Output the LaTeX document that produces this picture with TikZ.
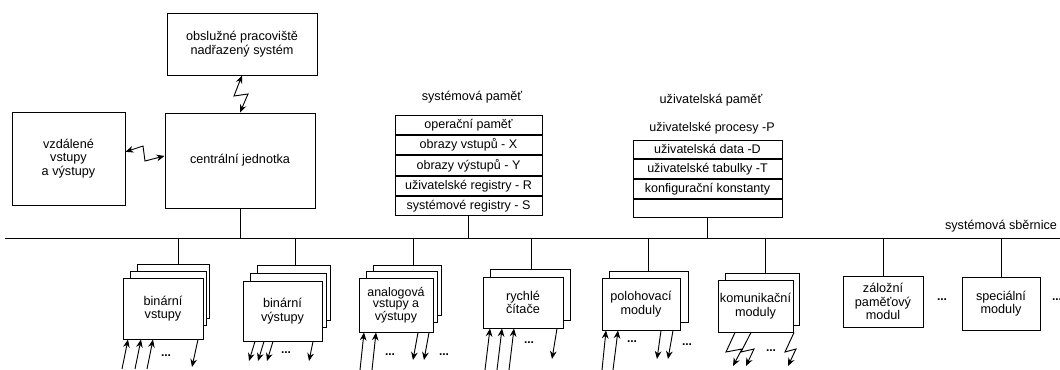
\documentclass[tikz,border=0pt]{standalone}
\usepackage{fontspec}
\setmainfont{Liberation Sans}
\usetikzlibrary{arrows.meta,calc}
\newlength\px \setlength\px{0.75pt}
\begin{document}
\begin{tikzpicture}[x=0.75pt,y=-0.75pt,
  line width=0.7pt,
  txt/.style={font=\fontsize{9.5}{10}\selectfont, align=center, inner sep=0pt},
  box/.style={draw, fill=white, txt},
  cell/.style={draw, fill=white, font=\fontsize{9.4}{10}\selectfont, inner sep=0pt, minimum width=147\px, minimum height=19.4\px},
  ucell/.style={draw, fill=white, font=\fontsize{9.4}{10}\selectfont, inner sep=0pt, minimum width=149\px, minimum height=18.75\px},
  uparr/.style={-{Stealth[length=6pt,width=5pt]}},
  dnarr/.style={-{Stealth[length=6pt,width=5pt]}},
  zz/.style={{Stealth[length=6pt,width=5pt]}-{Stealth[length=6pt,width=5pt]}},
  dots/.style={font=\bfseries\fontsize{9}{10}\selectfont, inner sep=0pt}
]
\useasboundingbox (0,0) rectangle (1060,370);

% top boxes
\node[box, minimum width=150\px, minimum height=62\px] (ob) at (242,44) {obslužné pracoviště\\nadřazený systém};
\node[box, minimum width=150\px, minimum height=95\px] (cj) at (240,160.5) {centrální jednotka};
\node[box, minimum width=113\px, minimum height=93\px] (vz) at (68.5,158.5) {vzdálené\\vstupy\\a výstupy};

\draw[zz] (ob.south) -- (234,96) -- (248,94) -- (cj.north);
\draw[zz] ([yshift=5pt]vz.east) -- (143,146) -- (145,161) -- ([yshift=3.4pt]cj.west);

% bus
\coordinate (busL) at (5,238);
\coordinate (busR) at (1060,238);
\draw (busL) -- (busR);
\node[txt, anchor=south] (sb) at (1001,233) {systémová sběrnice};

\draw (cj.south) -- (cj.south |- busL);

% system memory
\node[txt] (smt) at (472,97) {systémová paměť};
\node[cell] (s1) at (468.5,124.7) {operační paměť};
\node[cell, anchor=north] (s2) at (s1.south) {obrazy vstupů - X};
\node[cell, anchor=north] (s3) at (s2.south) {obrazy výstupů - Y};
\node[cell, anchor=north] (s4) at (s3.south) {uživatelské registry - R};
\node[cell, anchor=north] (s5) at (s4.south) {systémové registry - S};
\draw (s5.south) -- (s5.south |- busL);

% user memory
\node[txt] (umt) at (711,100) {uživatelská paměť};
\node[txt, font=\fontsize{9.4}{10}\selectfont] (u0) at (712,128) {uživatelské procesy -P};
\node[ucell] (u1) at (707.5,149.4) {uživatelská data -D};
\node[ucell, anchor=north] (u2) at (u1.south) {uživatelské tabulky -T};
\node[ucell, anchor=north] (u3) at (u2.south) {konfigurační konstanty};
\node[ucell, anchor=north] (u4) at (u3.south) {};
\draw (u4.south) -- (u4.south |- busL);

% module 1: binarni vstupy
\node[box, minimum width=72\px, minimum height=54\px] (m1r) at (173,291) {};
\node[box, minimum width=76\px, minimum height=54\px] (m1m) at (168,298) {};
\node[box, minimum width=80\px, minimum height=61\px] (m1) at (163,308.5) {binární\\vstupy};
\coordinate (t1) at (178,238);
\draw (t1) -- (t1 |- m1r.north);
\draw[uparr] (122,369) -- (128,339.5);
\draw[uparr] (135,369) -- (141,339.5);
\draw[uparr] (147,369) -- (153,339.5);
\node[dots] (d1) at (166,356) {...};
\draw[dnarr] (198,339.5) -- (192,367);

% module 2: binarni vystupy
\node[box, minimum width=73\px, minimum height=55\px] (m2r) at (293.5,292.5) {};
\node[box, minimum width=76\px, minimum height=54\px] (m2m) at (288,300) {};
\node[box, minimum width=79\px, minimum height=60\px] (m2) at (282.5,311) {binární\\výstupy};
\coordinate (t2) at (295,238);
\draw (t2) -- (t2 |- m2r.north);
\draw[dnarr] (255,341.5) -- (249,361);
\draw[dnarr] (264,341.5) -- (258,361);
\draw[dnarr] (273,341.5) -- (267,361);
\node[dots] (d2) at (286,353) {...};
\draw[dnarr] (313,341.5) -- (309,361);

% module 3: analogove
\node[box, minimum width=68\px, minimum height=50\px] (m3r) at (407,290) {};
\node[box, minimum width=71\px, minimum height=51\px] (m3m) at (401.5,296.5) {};
\node[box, minimum width=74\px, minimum height=54\px, font=\fontsize{9.3}{8.6}\selectfont] (m3) at (396,305) {analogová\\vstupy a\\výstupy};
\coordinate (t3) at (413,238);
\draw (t3) -- (t3 |- m3r.north);
\draw[uparr] (360,370) -- (364,332.5);
\draw[uparr] (372,370) -- (376,332.5);
\node[dots] (d3a) at (390,355) {...};
\draw[dnarr] (418,332.5) -- (413,360);
\draw[dnarr] (429,332.5) -- (424,360);
\node[dots] (d3b) at (444,355) {...};

% module 4: rychle citace
\node[box, minimum width=80\px, minimum height=51\px] (m4r) at (530,294.5) {};
\node[box, minimum width=80\px, minimum height=51\px] (m4) at (523,302.5) {rychlé\\čítače};
\coordinate (t4) at (531,238);
\draw (t4) -- (t4 |- m4r.north);
\draw[uparr] (485,370) -- (490,328.5);
\draw[uparr] (497,370) -- (502,328.5);
\draw[uparr] (509,370) -- (514,328.5);
\node[dots] (d4) at (529,343) {...};
\draw[dnarr] (557,328.5) -- (552,359);

% module 5: polohovaci
\node[box, minimum width=79\px, minimum height=51\px] (m5r) at (648.5,296.5) {};
\node[box, minimum width=78\px, minimum height=52\px] (m5) at (641,304) {polohovací\\moduly};
\coordinate (t5) at (648,238);
\draw (t5) -- (t5 |- m5r.north);
\draw[uparr] (602,370) -- (606,330.5);
\draw[uparr] (613,370) -- (618,330.5);
\node[dots] (d5a) at (632,342) {...};
\draw[dnarr] (661,330.5) -- (657,359);
\draw[dnarr] (673,330.5) -- (668,359);
\node[dots] (d5b) at (687,345) {...};

% module 6: komunikacni
\node[box, minimum width=74\px, minimum height=52\px] (m6r) at (762,299) {};
\node[box, minimum width=75\px, minimum height=52\px] (m6) at (755.5,306) {komunikační\\moduly};
\coordinate (t6) at (765,238);
\draw (t6) -- (t6 |- m6r.north);
\draw[dnarr] (735,332.5) -- (726,352) -- (742,349) -- (733,366);
\draw[dnarr] (751,332.5) -- (741,352) -- (754,349) -- (746,366);
\node[dots] (d6) at (771,351) {...};
\draw[dnarr] (794,332.5) -- (785,352) -- (796,349) -- (788,366);

% module 7: zalozni
\node[box, minimum width=80\px, minimum height=51\px] (m7) at (883,301.5) {záložní\\paměťový\\modul};
\coordinate (t7) at (883,238);
\draw (t7) -- (t7 |- m7.north);
\node[dots] (d7) at (942,300) {...};

% module 8: specialni
\node[box, minimum width=78\px, minimum height=53\px] (m8) at (1001,303.5) {speciální\\moduly};
\coordinate (t8) at (1001,238);
\draw (t8) -- (t8 |- m8.north);
\node[dots] (d8) at (1057,300) {...};
\end{tikzpicture}
\end{document}
